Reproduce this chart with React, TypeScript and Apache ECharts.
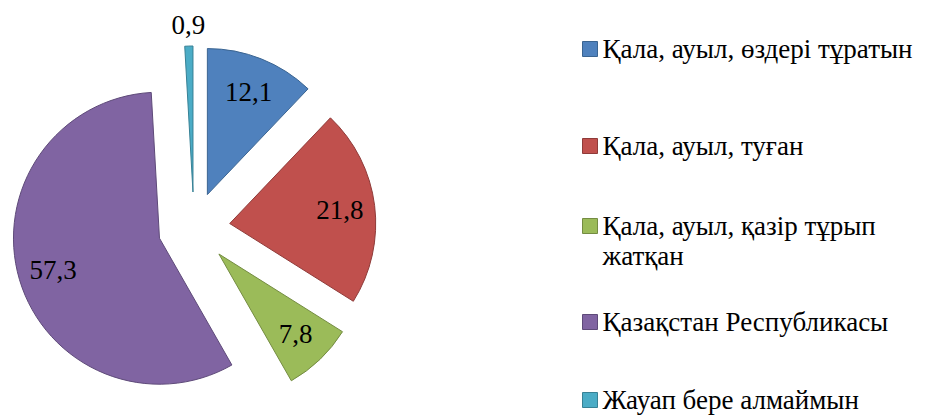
import React, { useEffect, useRef } from "react";
import * as echarts from "echarts";

const categories = [
  "Қала, ауыл, өздері тұратын",
  "Қала, ауыл, туған",
  "Қала, ауыл, қазір тұрып жатқан",
  "Қазақстан Республикасы",
  "Жауап бере алмаймын",
];
const values = [12.1, 21.8, 7.8, 57.3, 0.9];
const colors = ["#4F81BD", "#C0504D", "#9BBB59", "#8064A2", "#4BACC6"];
const borderColors = ["#3A6491", "#8F3B39", "#748C42", "#5E4A79", "#378195"];
const legendCenters = [49, 146, 226, 322, 400];
const legendLines = [
  ["Қала, ауыл, өздері тұратын"],
  ["Қала, ауыл, туған"],
  ["Қала, ауыл, қазір тұрып", "жатқан"],
  ["Қазақстан Республикасы"],
  ["Жауап бере алмаймын"],
];

const FONT = "Liberation Serif";

export default function App() {
  const ref = useRef<HTMLDivElement>(null);
  useEffect(() => {
    if (!ref.current) return;
    const chart = echarts.init(ref.current, undefined, { renderer: "svg" });
    const tok = { fontFamily: FONT, fontSize: 27, color: "#000", lineHeight: 30 };
    const fmt = (p: any) => "{v|" + String(p.value).replace(".", ",") + "}";
    const mainData = categories.map((name, i) => ({
      name,
      value: values[i],
      selected: true,
      itemStyle: { color: colors[i], borderColor: borderColors[i], borderWidth: 1 },
    }));
    const labelData = categories.map((name, i) => ({
      name,
      value: values[i],
      selected: true,
      label: { show: i !== 4 },
    }));
    const cyanLabelData = categories.map((name, i) => ({
      name,
      value: values[i],
      selected: true,
      label: { show: i === 4 },
    }));
    const labelStyle = {
      show: true,
      position: "inside",
      formatter: fmt,
      fontFamily: FONT,
      fontSize: 27,
      color: "#000",
      rich: { v: tok },
    };
    const legends = categories.map((name, i) => {
      const lines = legendLines[i];
      const twoLine = lines.length > 1;
      return {
        data: [name],
        orient: "vertical",
        left: 582,
        top: legendCenters[i] - (twoLine ? 45 : 15),
        padding: 0,
        itemWidth: 15,
        itemHeight: 15,
        icon: "rect",
        formatter: () => lines.map((l) => "{t|" + l + "}").join("\n"),
        itemStyle: { borderColor: borderColors[i], borderWidth: 1 },
        textStyle: {
          fontFamily: FONT,
          fontSize: 27,
          color: "#000",
          lineHeight: 30,
          padding: twoLine ? [30, 0, 0, 0] : 0,
          rich: { t: tok },
        },
      };
    });
    const base = {
      type: "pie",
      center: [194, 228],
      startAngle: 90,
      clockwise: true,
      selectedMode: "multiple",
      selectedOffset: 36,
      labelLine: { show: false },
      emphasis: { disabled: true },
    };
    chart.setOption({
      animation: false,
      textStyle: { fontFamily: FONT },
      legend: legends,
      series: [
        { ...base, name: "main", radius: [0, 146], label: { show: false }, data: mainData },
        {
          ...base,
          name: "labels",
          radius: [70, 146],
          silent: true,
          itemStyle: { color: "rgba(0,0,0,0)", borderWidth: 0 },
          label: labelStyle,
          data: labelData,
        },
        {
          ...base,
          name: "outerLabels",
          radius: [150, 178],
          silent: true,
          itemStyle: { color: "rgba(0,0,0,0)", borderWidth: 0 },
          label: labelStyle,
          data: cyanLabelData,
        },
      ],
    });
    return () => chart.dispose();
  }, []);
  return (
    <div
      ref={ref}
      style={{ position: "absolute", left: 0, top: 0, width: 946, height: 415, background: "#fff" }}
    />
  );
}
